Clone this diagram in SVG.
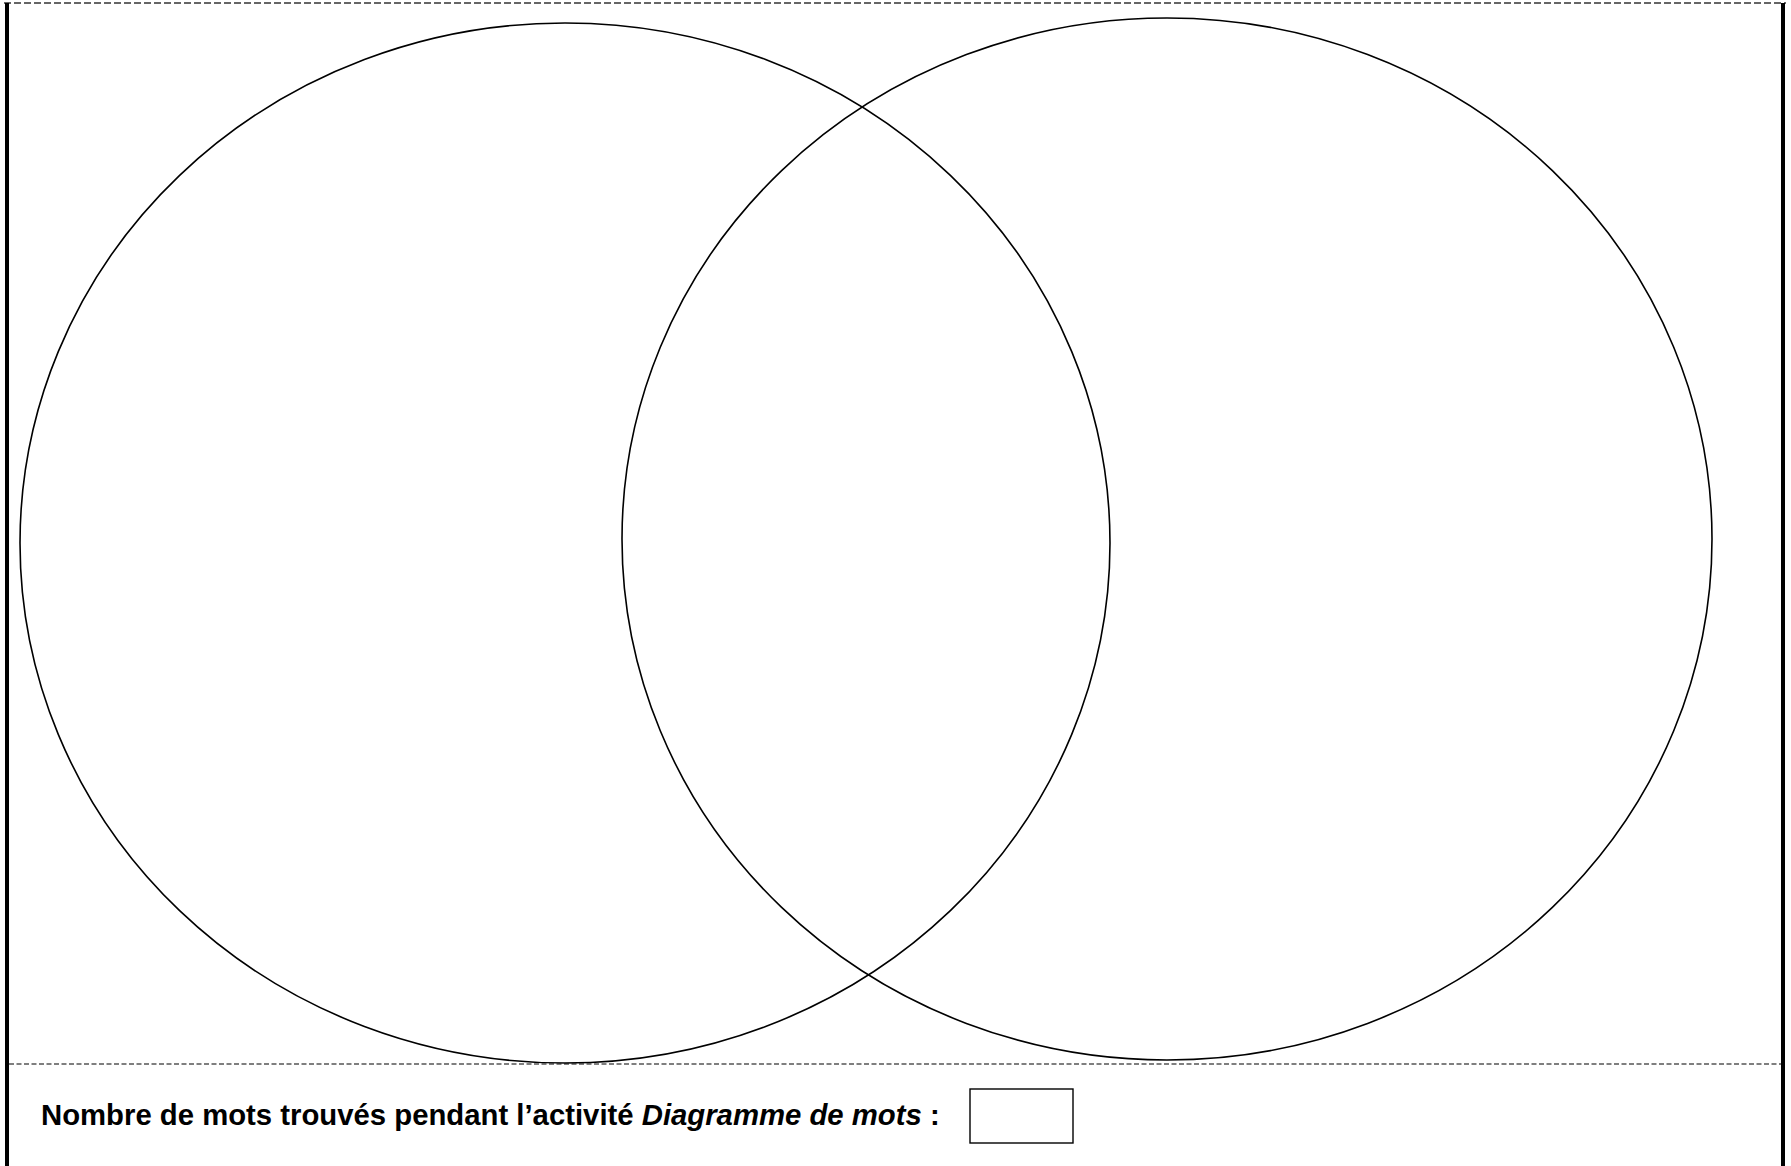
<svg xmlns="http://www.w3.org/2000/svg" width="1791" height="1166" viewBox="0 0 1791 1166">
<style>
.bar{fill:#000}
.circ{fill:none;stroke:#000;stroke-width:1.6}
.t{font-family:"Liberation Sans",Arial,sans-serif;font-weight:bold;font-size:29.3px;fill:#000}
</style>
<rect x="0" y="0" width="1791" height="1166" fill="#fff"/>
<g id="frame">
<line x1="4" y1="3" x2="1786" y2="3" stroke="#666" stroke-width="2.2" stroke-dasharray="7,3"/>
<rect class="bar" x="5" y="3" width="4" height="1163"/>
<rect class="bar" x="1781" y="3" width="4" height="1163"/>
<line x1="9" y1="1064" x2="1781" y2="1064" stroke="#000" stroke-width="1.2" stroke-dasharray="5,2.5"/>
</g>
<g id="circle-left">
<ellipse class="circ" cx="565" cy="543" rx="545" ry="520"/>
</g>
<g id="circle-right">
<ellipse class="circ" cx="1167" cy="539" rx="545" ry="521"/>
</g>
<g id="connectors"></g>
<g id="label">
<text class="t" x="41" y="1125">Nombre de mots trouvés pendant l’activité <tspan font-style="italic">Diagramme de mots</tspan> :</text>
</g>
<g id="answer-box">
<rect x="970" y="1089" width="103" height="54" fill="none" stroke="#000" stroke-width="1.4"/>
</g>
</svg>
